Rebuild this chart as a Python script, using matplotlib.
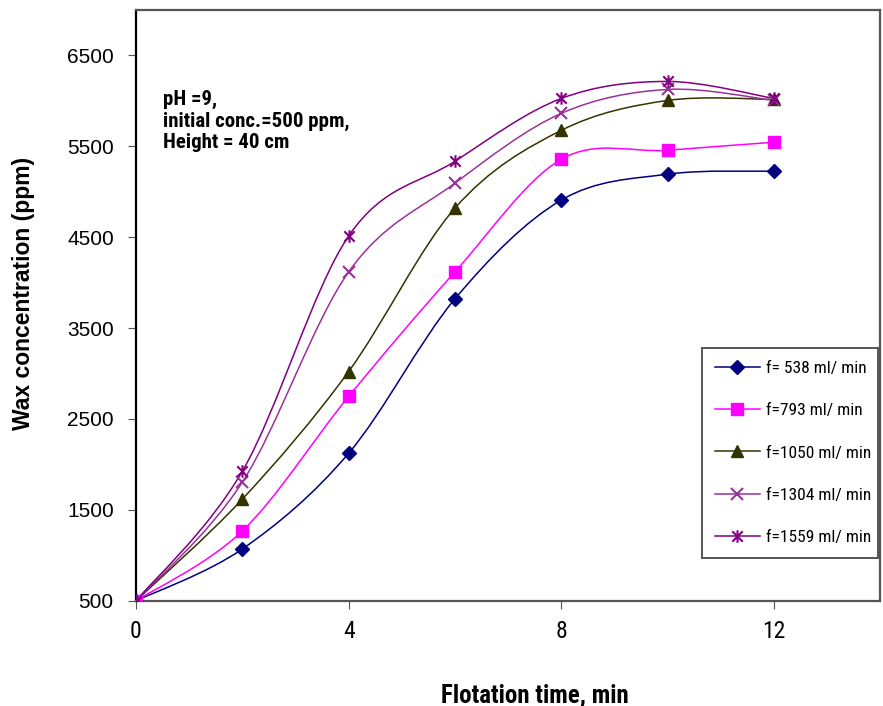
import matplotlib
matplotlib.use('Agg')
import matplotlib.pyplot as plt
from matplotlib.path import Path
from matplotlib.patches import PathPatch
from matplotlib.lines import Line2D

time = [0, 2, 4, 6, 8, 10, 12]
f538 = [500, 1070, 2123, 3822, 4908, 5193, 5226]
f793 = [500, 1268, 2748, 4118, 5357, 5456, 5544]
f1050 = [500, 1618, 3022, 4820, 5675, 6004, 6015]
f1304 = [500, 1805, 4118, 5094, 5862, 6125, 6004]
f1559 = [500, 1925, 4513, 5335, 6026, 6213, 6026]

labels = ['f= 538 ml/ min', 'f=793 ml/ min', 'f=1050 ml/ min',
          'f=1304 ml/ min', 'f=1559 ml/ min']
colors = ['#000080', '#ff00ff', '#333300', '#993399', '#800080']

star = Path([(-1, -1), (1, 1), (-1, 1), (1, -1), (0, -1.2), (0, 1.2)],
            [Path.MOVETO, Path.LINETO] * 3)
markers = ['D', 's', '^', 'x', star]
msizes = [7, 9, 9, 9, 9]

narrow = ['Roboto Condensed', 'DejaVu Sans']
arial = ['Liberation Sans', 'DejaVu Sans']


def smooth_path(x, y):
    # Catmull-Rom style bezier like the spreadsheet "smoothed line"
    pts = list(zip(x, y))
    n = len(pts)
    verts = [pts[0]]
    codes = [Path.MOVETO]
    for i in range(n - 1):
        p0 = pts[i - 1] if i > 0 else pts[i]
        p1 = pts[i]
        p2 = pts[i + 1]
        p3 = pts[i + 2] if i + 2 < n else pts[i + 1]
        c1 = (p1[0] + (p2[0] - p0[0]) / 6, p1[1] + (p2[1] - p0[1]) / 6)
        c2 = (p2[0] - (p3[0] - p1[0]) / 6, p2[1] - (p3[1] - p1[1]) / 6)
        verts += [c1, c2, p2]
        codes += [Path.CURVE4] * 3
    return Path(verts, codes)


if __name__ == "__main__":
    fig = plt.figure(figsize=(8.83, 7.06), dpi=100)
    ax = fig.add_axes([0.154, 0.149, 0.843, 0.837])

    series = [f538, f793, f1050, f1304, f1559]
    handles = []
    for ys, lab, c, m, ms in zip(series, labels, colors, markers, msizes):
        ax.add_patch(PathPatch(smooth_path(time, ys), fill=False,
                               edgecolor=c, lw=1.1, zorder=2))
        mew = 1.5 if m in ('x',) or m is star else 1
        ax.plot(time, ys, ls='none', marker=m, ms=ms, color=c,
                mew=mew, zorder=3)
        handles.append(Line2D([], [], color=c, lw=1.1, marker=m, ms=ms,
                              mew=mew))

    ax.set_xlim(0, 14)
    ax.set_ylim(500, 7000)
    ax.set_xticks([0, 4, 8, 12])
    ax.set_yticks([500, 1500, 2500, 3500, 4500, 5500, 6500])

    for lab in ax.get_xticklabels():
        lab.set_family(narrow)
        lab.set_fontsize(17)
    for lab in ax.get_yticklabels():
        lab.set_family(arial)
        lab.set_fontsize(15)
    ax.tick_params(axis='x', direction='out', length=6, color='#555555', pad=8)
    ax.tick_params(axis='y', direction='out', length=6, color='#555555', pad=10)

    for s in ['top', 'right', 'bottom']:
        ax.spines[s].set_color('#555555')
        ax.spines[s].set_linewidth(1.6)
    ax.spines['left'].set_color('black')
    ax.spines['left'].set_linewidth(1.6)

    ax.set_xlabel('Flotation time, min', fontsize=18, fontweight='bold',
                  family=narrow)
    ax.xaxis.set_label_coords(0.536, -0.14)
    ax.set_ylabel('Wax concentration (ppm)', fontsize=16.5, fontweight='bold',
                  family=arial)
    ax.yaxis.set_label_coords(-0.135, 0.52)

    ax.text(0.036, 0.865, 'pH =9,\ninitial conc.=500 ppm,\nHeight = 40 cm',
            transform=ax.transAxes, va='top', ha='left', fontsize=15,
            fontweight='bold', family=narrow, linespacing=1.18)

    leg = ax.legend(handles, labels, loc='lower left',
                    bbox_to_anchor=(0.76, 0.073, 0.237, 0.348),
                    mode='expand', borderaxespad=0, fancybox=False,
                    framealpha=1, edgecolor='#555555', handlelength=2.6,
                    handletextpad=0.35, labelspacing=1.55, borderpad=0.75,
                    prop={'family': narrow, 'size': 12.5})
    leg.get_frame().set_linewidth(1.4)

    plt.savefig('out.png', dpi=100)
